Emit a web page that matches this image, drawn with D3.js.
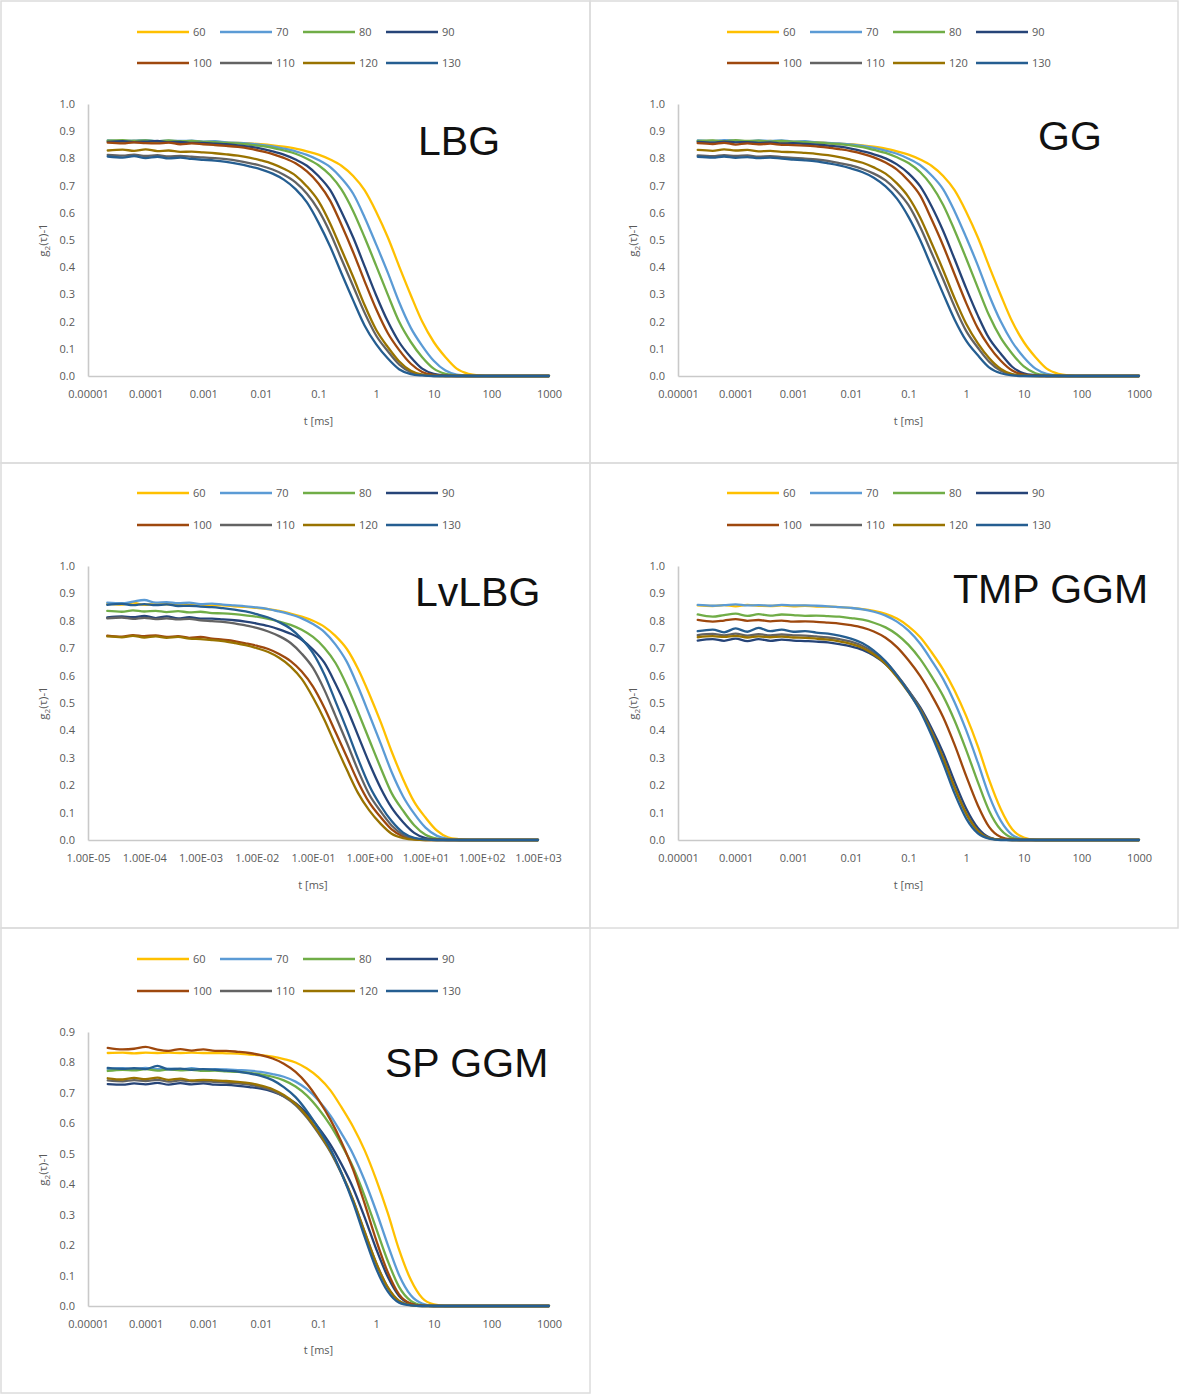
<!DOCTYPE html>
<html>
<head>
<meta charset="utf-8">
<script src="https://cdn.jsdelivr.net/npm/d3@7"></script>
<style>
  html, body { margin: 0; padding: 0; background: #fff; }
  svg { display: block; }
</style>
</head>
<body>
<svg id="chart" width="1179" height="1394"></svg>
<script>
// Lag times (ms) shared by every correlation curve
const tau = [2.2e-5, 4e-5, 6.3e-5, 1e-4, 1.6e-4, 2.5e-4, 4e-4, 6.3e-4, 1e-3, 1.6e-3, 2.5e-3, 4e-3, 6.3e-3,
  0.01, 0.016, 0.025, 0.04, 0.063, 0.1, 0.16, 0.25, 0.4, 0.63, 1, 1.6, 2.5, 4, 6.3, 10, 16, 25, 40, 63,
  100, 160, 250, 400, 630, 1000];

// Series names (temperatures) and their colours
const temps = ["60", "70", "80", "90", "100", "110", "120", "130"];
const colors = ["#FFC000", "#5B9BD5", "#70AD47", "#264478", "#9E480E", "#636363", "#997300", "#255E91"];

// Axis ticks and labels
const xTicks = [1e-5, 1e-4, 1e-3, 1e-2, 1e-1, 1, 10, 100, 1000];
const xLabelsDec = ["0.00001", "0.0001", "0.001", "0.01", "0.1", "1", "10", "100", "1000"];
const xLabelsSci = ["1.00E-05", "1.00E-04", "1.00E-03", "1.00E-02", "1.00E-01", "1.00E+00", "1.00E+01", "1.00E+02", "1.00E+03"];
const yTicksTo10 = [0, 0.1, 0.2, 0.3, 0.4, 0.5, 0.6, 0.7, 0.8, 0.9, 1.0];
const yTicksTo09 = [0, 0.1, 0.2, 0.3, 0.4, 0.5, 0.6, 0.7, 0.8, 0.9];

// g2(t)-1 values, one row per temperature (60 ... 130)
const seriesLBG = [
  [.863,.861,.864,.862,.860,.863,.861,.862,.860,.861,.858,.857,.855,.852,.848,.843,.836,.826,.814,.796,.773,.735,.683,.604,.509,.404,.297,.2,.125,.069,.027,.008,.002,0,0,0,0,0,0],
  [.866,.864,.865,.867,.863,.865,.864,.865,.862,.863,.859,.857,.854,.850,.844,.836,.826,.813,.794,.768,.727,.670,.584,.484,.379,.272,.177,.111,.056,.020,.005,.001,0,0,0,0,0,0,0],
  [.865,.867,.864,.866,.863,.866,.863,.864,.861,.860,.857,.855,.851,.846,.839,.829,.817,.799,.775,.738,.686,.606,.510,.406,.298,.2,.125,.069,.027,.008,.002,0,0,0,0,0,0,0,0],
  [.861,.863,.860,.862,.864,.860,.861,.857,.857,.854,.852,.848,.843,.836,.826,.814,.796,.773,.735,.683,.604,.509,.404,.297,.2,.125,.069,.027,.008,.002,0,0,0,0,0,0,0,0,0],
  [.858,.855,.859,.856,.855,.858,.852,.855,.852,.849,.846,.842,.836,.827,.816,.802,.782,.752,.708,.644,.556,.455,.349,.246,.157,.096,.045,.015,.004,0,0,0,0,0,0,0,0,0,0],
  [.813,.810,.814,.809,.812,.807,.809,.806,.804,.801,.797,.791,.783,.773,.759,.740,.712,.670,.610,.526,.430,.330,.233,.149,.091,.043,.014,.004,0,0,0,0,0,0,0,0,0,0,0],
  [.829,.832,.828,.833,.827,.829,.824,.825,.822,.819,.815,.810,.803,.793,.780,.762,.737,.697,.643,.560,.465,.364,.261,.17,.106,.054,.019,.005,.001,0,0,0,0,0,0,0,0,0,0],
  [.807,.803,.808,.801,.806,.800,.803,.798,.795,.792,.787,.780,.771,.760,.744,.722,.687,.638,.564,.475,.378,.278,.186,.117,.064,.025,.007,.002,0,0,0,0,0,0,0,0,0,0,0]
];

const seriesGG = [
  [.862,.864,.861,.863,.860,.862,.864,.861,.862,.859,.860,.856,.854,.852,.848,.843,.836,.826,.814,.796,.773,.735,.683,.604,.509,.404,.297,.2,.125,.069,.027,.008,.002,0,0,0,0,0,0],
  [.866,.864,.867,.865,.863,.866,.864,.866,.862,.863,.859,.857,.855,.851,.846,.839,.829,.817,.799,.775,.738,.686,.606,.510,.406,.298,.2,.125,.069,.027,.008,.002,0,0,0,0,0,0,0],
  [.864,.866,.863,.867,.864,.865,.862,.864,.861,.860,.858,.855,.852,.848,.841,.831,.820,.804,.783,.749,.701,.629,.536,.433,.324,.223,.14,.082,.035,.01,.003,0,0,0,0,0,0,0,0],
  [.861,.858,.862,.859,.860,.857,.859,.855,.856,.853,.851,.847,.843,.836,.826,.815,.8,.778,.745,.697,.625,.533,.43,.323,.222,.139,.082,.034,.01,.003,0,0,0,0,0,0,0,0,0],
  [.856,.853,.857,.851,.855,.852,.854,.850,.849,.847,.844,.840,.834,.827,.817,.804,.785,.759,.718,.663,.577,.479,.374,.269,.175,.109,.056,.02,.005,.001,0,0,0,0,0,0,0,0,0],
  [.811,.808,.812,.809,.811,.806,.808,.805,.802,.799,.796,.791,.783,.774,.761,.744,.719,.68,.628,.547,.454,.355,.255,.166,.104,.053,.019,.005,.001,0,0,0,0,0,0,0,0,0,0],
  [.831,.828,.833,.829,.831,.826,.828,.824,.823,.820,.817,.812,.805,.795,.784,.767,.744,.708,.658,.582,.49,.389,.286,.192,.12,.066,.026,.007,.002,0,0,0,0,0,0,0,0,0,0],
  [.806,.803,.807,.802,.805,.801,.803,.799,.796,.793,.789,.782,.774,.763,.749,.729,.697,.652,.585,.499,.403,.302,.208,.13,.076,.032,.01,.002,0,0,0,0,0,0,0,0,0,0,0]
];

const seriesLvLBG = [
  [.862,.859,.866,.858,.861,.86,.862,.858,.859,.856,.856,.853,.851,.847,.843,.836,.826,.815,.8,.778,.745,.697,.625,.533,.43,.323,.222,.139,.082,.034,.01,.003,0,0,0,0,0,0,0],
  [.866,.864,.870,.876,.866,.868,.864,.866,.861,.863,.859,.856,.853,.849,.843,.834,.823,.809,.788,.759,.714,.65,.56,.458,.352,.248,.159,.096,.045,.015,.004,0,0,0,0,0,0,0,0],
  [.836,.833,.838,.834,.836,.832,.835,.831,.833,.828,.827,.824,.820,.815,.807,.797,.785,.767,.741,.701,.647,.564,.468,.366,.263,.171,.107,.054,.019,.005,.001,0,0,0,0,0,0,0,0],
  [.812,.816,.813,.818,.810,.816,.809,.813,.808,.808,.805,.802,.797,.79,.781,.769,.753,.731,.695,.646,.571,.481,.382,.281,.189,.118,.065,.026,.007,.002,0,0,0,0,0,0,0,0,0],
  [.746,.742,.748,.744,.747,.741,.744,.738,.741,.735,.731,.726,.718,.709,.697,.679,.653,.615,.56,.482,.395,.303,.213,.137,.083,.039,.013,.003,0,0,0,0,0,0,0,0,0,0,0],
  [.809,.812,.807,.811,.806,.809,.805,.807,.802,.799,.796,.791,.783,.774,.761,.744,.719,.68,.628,.547,.454,.355,.255,.166,.104,.053,.019,.005,.001,0,0,0,0,0,0,0,0,0,0],
  [.743,.740,.745,.739,.743,.738,.741,.735,.733,.730,.726,.719,.711,.7,.686,.665,.633,.588,.52,.438,.348,.256,.172,.108,.059,.023,.007,.001,0,0,0,0,0,0,0,0,0,0,0],
  [.858,.862,.857,.861,.857,.860,.854,.855,.852,.850,.846,.841,.834,.824,.812,.795,.771,.734,.682,.603,.507,.403,.297,.199,.125,.069,.027,.008,.002,0,0,0,0,0,0,0,0,0,0]
];

const seriesTMP = [
  [.856,.854,.857,.853,.858,.855,.854,.856,.853,.855,.852,.852,.850,.847,.843,.836,.825,.808,.78,.74,.686,.622,.546,.453,.342,.22,.112,.039,.009,.001,0,0,0,0,0,0,0,0,0],
  [.858,.855,.857,.860,.856,.857,.855,.858,.856,.856,.855,.853,.850,.847,.842,.833,.819,.797,.764,.716,.656,.587,.503,.401,.282,.163,.07,.019,.003,0,0,0,0,0,0,0,0,0,0],
  [.823,.815,.821,.826,.818,.824,.819,.823,.821,.818,.819,.817,.815,.810,.804,.793,.776,.75,.712,.66,.598,.525,.436,.329,.211,.107,.037,.008,.001,0,0,0,0,0,0,0,0,0,0],
  [.728,.733,.727,.735,.726,.733,.727,.731,.728,.726,.724,.721,.715,.707,.694,.673,.642,.599,.545,.484,.409,.318,.213,.115,.044,.01,.001,0,0,0,0,0,0,0,0,0,0,0,0],
  [.803,.797,.801,.806,.800,.803,.798,.801,.797,.798,.796,.793,.79,.784,.775,.761,.738,.704,.656,.598,.53,.448,.348,.234,.126,.048,.011,.002,0,0,0,0,0,0,0,0,0,0,0],
  [.748,.752,.747,.753,.746,.751,.747,.750,.747,.746,.743,.739,.733,.724,.708,.684,.65,.602,.545,.479,.398,.3,.193,.098,.034,.008,.001,0,0,0,0,0,0,0,0,0,0,0,0],
  [.740,.744,.741,.745,.739,.743,.740,.742,.739,.738,.735,.731,.725,.716,.701,.677,.643,.595,.539,.474,.393,.297,.191,.097,.034,.007,.001,0,0,0,0,0,0,0,0,0,0,0,0],
  [.762,.768,.758,.772,.760,.774,.762,.768,.760,.762,.757,.753,.746,.735,.718,.691,.652,.601,.541,.47,.383,.279,.17,.079,.024,.005,0,0,0,0,0,0,0,0,0,0,0,0,0]
];

const seriesSP = [
  [.831,.832,.830,.832,.831,.832,.831,.832,.831,.831,.830,.829,.826,.824,.819,.811,.8,.78,.751,.709,.653,.588,.512,.416,.304,.185,.086,.026,.005,0,0,0,0,0,0,0,0,0,0],
  [.778,.781,.779,.782,.778,.780,.777,.781,.777,.778,.777,.775,.773,.769,.762,.753,.737,.712,.675,.626,.567,.498,.413,.312,.2,.102,.035,.008,.001,0,0,0,0,0,0,0,0,0,0],
  [.772,.776,.774,.778,.773,.777,.774,.776,.772,.773,.771,.769,.766,.761,.753,.741,.721,.691,.648,.594,.531,.455,.362,.255,.147,.063,.017,.003,0,0,0,0,0,0,0,0,0,0,0],
  [.729,.727,.731,.728,.733,.727,.732,.728,.731,.727,.726,.723,.719,.714,.704,.689,.666,.632,.586,.531,.466,.387,.292,.188,.095,.033,.007,.001,0,0,0,0,0,0,0,0,0,0,0],
  [.848,.843,.845,.851,.842,.838,.844,.839,.843,.838,.838,.835,.831,.824,.813,.796,.769,.73,.677,.613,.539,.447,.337,.217,.11,.038,.008,.001,0,0,0,0,0,0,0,0,0,0,0],
  [.741,.738,.742,.739,.743,.737,.741,.738,.738,.736,.734,.731,.727,.719,.707,.688,.66,.619,.567,.507,.435,.346,.243,.141,.06,.017,.003,0,0,0,0,0,0,0,0,0,0,0,0],
  [.748,.744,.749,.745,.750,.743,.747,.741,.743,.741,.739,.736,.732,.724,.712,.693,.664,.623,.571,.51,.438,.348,.245,.142,.061,.017,.003,0,0,0,0,0,0,0,0,0,0,0,0],
  [.782,.779,.781,.778,.789,.777,.780,.776,.778,.776,.773,.770,.764,.756,.742,.719,.686,.64,.583,.517,.437,.339,.228,.123,.047,.011,.002,0,0,0,0,0,0,0,0,0,0,0,0]
];

// Panels: sample name, curves, y ticks and x label style
const panels = [
  { name: "LBG", series: seriesLBG, yTicks: yTicksTo10, xLabels: xLabelsDec },
  { name: "GG", series: seriesGG, yTicks: yTicksTo10, xLabels: xLabelsDec },
  { name: "LvLBG", series: seriesLvLBG, yTicks: yTicksTo10, xLabels: xLabelsSci },
  { name: "TMP GGM", series: seriesTMP, yTicks: yTicksTo10, xLabels: xLabelsDec },
  { name: "SP GGM", series: seriesSP, yTicks: yTicksTo09, xLabels: xLabelsDec }
];

// Page layout of each panel (pixels)
const layout = [
  { cell: [1, 1, 589, 462], plot: [88, 549, 104, 376], title: [418, 155], legendX: 137, legendY: [32, 63], yTitleX: 43, xTitleY: 421 },
  { cell: [590, 1, 588, 462], plot: [678, 1139, 104, 376], title: [1038, 150], legendX: 727, legendY: [32, 63], yTitleX: 633, xTitleY: 421 },
  { cell: [1, 463, 589, 465], plot: [88, 538, 566, 840], title: [415, 606], legendX: 137, legendY: [493, 525], yTitleX: 43, xTitleY: 885 },
  { cell: [590, 463, 588, 465], plot: [678, 1139, 566, 840], title: [953, 603], legendX: 727, legendY: [493, 525], yTitleX: 633, xTitleY: 885 },
  { cell: [1, 928, 589, 465], plot: [88, 549, 1032, 1306], title: [385, 1077], legendX: 137, legendY: [959, 991], yTitleX: 43, xTitleY: 1350 }
];

const FONT = "'Open Sans', 'Liberation Sans', sans-serif";
const TEXT_GREY = "#595959";

const svg = d3.select("#chart");
svg.append("rect").attr("width", 1179).attr("height", 1394).attr("fill", "#fff");

panels.forEach((P, pi) => {
  const L = layout[pi];
  const g = svg.append("g");

  // cell frame
  g.append("rect")
    .attr("x", L.cell[0]).attr("y", L.cell[1])
    .attr("width", L.cell[2]).attr("height", L.cell[3])
    .attr("fill", "none").attr("stroke", "#dcdcdc").attr("stroke-width", 1.5);

  const yMax = P.yTicks[P.yTicks.length - 1];
  const x = d3.scaleLog().domain([1e-5, 1e3]).range([L.plot[0], L.plot[1]]);
  const y = d3.scaleLinear().domain([0, yMax]).range([L.plot[3], L.plot[2]]);

  // legend, two rows of four
  temps.forEach((t, i) => {
    const row = Math.floor(i / 4), col = i % 4;
    const lx = L.legendX + col * 83, ly = L.legendY[row];
    g.append("line")
      .attr("x1", lx).attr("x2", lx + 52).attr("y1", ly).attr("y2", ly)
      .attr("stroke", colors[i]).attr("stroke-width", 2.6);
    g.append("text")
      .attr("x", lx + 56).attr("y", ly).attr("dy", "0.36em")
      .attr("font-family", FONT).attr("font-size", 11).attr("fill", TEXT_GREY)
      .text(t);
  });

  // axes
  const xAxis = d3.axisBottom(x)
    .tickValues(xTicks)
    .tickFormat((d, i) => P.xLabels[i])
    .tickSize(0).tickPadding(14);
  const yAxis = d3.axisLeft(y)
    .tickValues(P.yTicks)
    .tickFormat(d3.format(".1f"))
    .tickSize(0).tickPadding(13);

  const gx = g.append("g").attr("transform", `translate(0,${L.plot[3]})`).call(xAxis);
  const gy = g.append("g").attr("transform", `translate(${L.plot[0]},0)`).call(yAxis);
  [gx, gy].forEach(a => {
    a.attr("font-family", FONT).attr("font-size", 11);
    a.select(".domain").attr("stroke", "#c9c9c9").attr("stroke-width", 1.6);
    a.selectAll("text").attr("fill", TEXT_GREY);
  });

  // axis titles
  g.append("text")
    .attr("x", (L.plot[0] + L.plot[1]) / 2).attr("y", L.xTitleY).attr("dy", "0.35em")
    .attr("text-anchor", "middle")
    .attr("font-family", FONT).attr("font-size", 11).attr("fill", TEXT_GREY)
    .text("t [ms]");

  const yt = g.append("text")
    .attr("transform", `translate(${L.yTitleX},${(L.plot[2] + L.plot[3]) / 2}) rotate(-90)`)
    .attr("text-anchor", "middle").attr("dy", "0.35em")
    .attr("font-family", FONT).attr("font-size", 11.5).attr("fill", TEXT_GREY);
  yt.append("tspan").text("g");
  yt.append("tspan").attr("font-size", 8).attr("dy", 2.5).text("2");
  yt.append("tspan").attr("dy", -2.5).text("(τ)-1");

  // correlation curves
  const line = d3.line()
    .x(d => x(d[0]))
    .y(d => y(d[1]))
    .curve(d3.curveMonotoneX);

  P.series.forEach((vals, i) => {
    const pts = vals.map((v, k) => [tau[k], v]).filter(d => d[0] !== undefined);
    g.append("path")
      .attr("d", line(pts))
      .attr("fill", "none")
      .attr("stroke", colors[i])
      .attr("stroke-width", 2.3)
      .attr("stroke-linejoin", "round")
      .attr("stroke-linecap", "round");
  });

  // sample name
  g.append("text")
    .attr("x", L.title[0]).attr("y", L.title[1])
    .attr("font-family", "'Liberation Sans', Arial, sans-serif")
    .attr("font-size", 41).attr("fill", "#111")
    .text(P.name);
});
</script>
</body>
</html>
